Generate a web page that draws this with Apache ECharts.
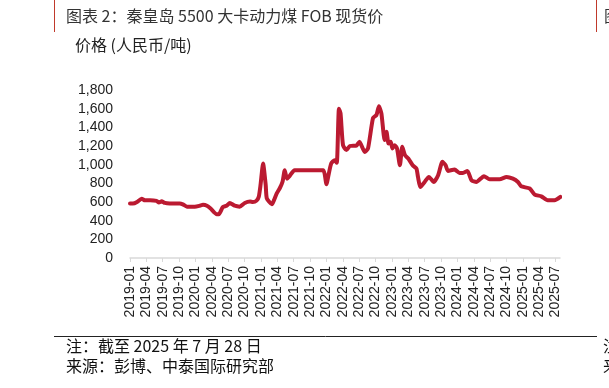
<!DOCTYPE html>
<html>
<head>
<meta charset="utf-8">
<script src="https://cdn.jsdelivr.net/npm/echarts@6/dist/echarts.min.js"></script>
<style>
html,body{margin:0;padding:0;background:#fff;}
#chart{width:609px;height:388px;}
</style>
</head>
<body>
<div id="chart"></div>
<script>
// ---- data ----
const dates = [
 "2019-01-01","2019-01-17","2019-02-09","2019-03-05","2019-03-24","2019-04-21","2019-05-28","2019-06-10","2019-06-25","2019-07-13",
 "2019-08-10","2019-10-05","2019-10-22","2019-11-14","2019-12-28","2020-01-25","2020-02-12","2020-03-04","2020-03-25","2020-04-28",
 "2020-05-10","2020-06-01","2020-06-22","2020-07-10","2020-08-07","2020-09-04","2020-10-02","2020-11-01","2020-11-16","2020-12-07",
 "2020-12-20","2020-12-30","2021-01-13","2021-01-28","2021-02-03","2021-03-01","2021-03-13","2021-03-28","2021-04-15","2021-04-30",
 "2021-05-12","2021-05-25","2021-06-09","2021-07-06","2021-12-13","2021-12-22","2022-01-01","2022-01-14","2022-01-28","2022-02-15",
 "2022-02-26","2022-03-10","2022-03-19","2022-04-02","2022-04-21","2022-05-10","2022-06-16","2022-07-03","2022-07-13","2022-08-01",
 "2022-08-20","2022-09-17","2022-10-06","2022-10-20","2022-11-03","2022-11-21","2022-12-01","2022-12-13","2022-12-25","2023-01-04",
 "2023-01-16","2023-01-30","2023-02-14","2023-02-26","2023-03-13","2023-04-01","2023-04-25","2023-05-16","2023-05-25","2023-06-07",
 "2023-07-01","2023-07-25","2023-08-22","2023-09-15","2023-10-09","2023-10-27","2023-11-09","2023-12-16","2024-01-13","2024-02-01",
 "2024-02-25","2024-03-19","2024-04-15","2024-05-28","2024-06-28","2024-08-24","2024-10-01","2024-11-06","2024-12-04","2024-12-22",
 "2025-02-08","2025-03-06","2025-04-12","2025-05-18","2025-06-25","2025-07-28"
];
const prices = [
 583,583,600,636,618,620,612,595,607,590,
 585,585,575,550,550,560,570,560,530,470,
 470,545,560,590,560,550,590,605,600,615,
 660,790,1012,780,640,575,620,690,750,820,
 940,850,880,940,940,900,790,900,1013,1048,
 1020,1600,1550,1210,1156,1200,1205,1245,1209,1137,
 1174,1500,1532,1625,1550,1263,1352,1227,1245,1174,
 1209,1174,994,1191,1102,1066,994,959,869,761,
 815,869,815,887,1030,994,933,948,912,912,
 933,833,815,876,844,844,869,851,815,769,
 744,679,661,618,618,654
];
const yTicks = [0,200,400,600,800,1000,1200,1400,1600,1800];
const titleText = "图表 2：秦皇岛 5500 大卡动力煤 FOB 现货价";
const unitText = "价格 (人民币/吨)";
const noteText = "注：截至 2025 年 7 月 28 日";
const sourceText = "来源：彭博、中泰国际研究部";

// month index since 2019-01 (fractional) for the value axis
function monthIndex(s){
  const p = s.split('-').map(Number);
  const dim = new Date(p[0], p[1], 0).getDate();
  return (p[0]-2019)*12 + (p[1]-1) + (p[2]-1)/dim;
}
const seriesData = dates.map((d,i)=>[monthIndex(d), prices[i]]);

const chart = echarts.init(document.getElementById('chart'), null, {renderer:'canvas'});
const cjk = '"Noto Sans CJK SC","Noto Sans",sans-serif';
chart.setOption({
  animation:false,
  backgroundColor:'#fff',
  grid:{left:130, right:49, top:90, bottom:130, containLabel:false},
  xAxis:{
    type:'value', min:0, max:78.8, interval:3,
    axisLine:{show:true, lineStyle:{color:'#d9d9d9', width:1.5}},
    axisTick:{show:true, length:4, lineStyle:{color:'#d9d9d9', width:1}},
    splitLine:{show:false},
    axisLabel:{
      rotate:90, margin:8, fontSize:14, color:'#222',
      fontFamily:'"Liberation Sans",Arial,sans-serif',
      showMaxLabel:false,
      formatter:function(v){
        if (Math.abs(v/3 - Math.round(v/3))>1e-6) return '';
        const y = 2019 + Math.floor(v/12);
        const m = Math.round(v % 12) + 1;
        return y + '-' + (m<10?'0':'') + m;
      }
    }
  },
  yAxis:{
    type:'value', min:yTicks[0], max:yTicks[yTicks.length-1], interval:200,
    axisLine:{show:false}, axisTick:{show:false}, splitLine:{show:false},
    axisLabel:{
      margin:17, fontSize:14, color:'#222',
      fontFamily:'"Liberation Sans",Arial,sans-serif',
      formatter:function(v){ return v.toLocaleString('en-US'); }
    }
  },
  series:[{
    type:'line', data:seriesData, showSymbol:false, smooth:0.2,
    lineStyle:{color:'#BB1A31', width:4, join:'round', cap:'round'}
  }],
  graphic:[
    {type:'line', shape:{x1:54.5,y1:0,x2:54.5,y2:32}, style:{stroke:'#C0392B', lineWidth:1}},
    {type:'line', shape:{x1:596.5,y1:0,x2:596.5,y2:32}, style:{stroke:'#C0392B', lineWidth:1}},
    {type:'text', left:66, top:8, style:{text:titleText, font:'16px '+cjk, fill:'#333'}},
    {type:'text', left:604, top:8, style:{text:'图', font:'16px '+cjk, fill:'#333'}},
    {type:'text', left:75, top:37, style:{text:unitText, font:'16px '+cjk, fill:'#222'}},
    {type:'line', shape:{x1:54,y1:336.5,x2:597,y2:336.5}, style:{stroke:'#222', lineWidth:1}},
    {type:'text', left:66, top:338, style:{text:noteText, font:'16px '+cjk, fill:'#111'}},
    {type:'text', left:66, top:358, style:{text:sourceText, font:'16px '+cjk, fill:'#111'}},
    {type:'text', left:603, top:338, style:{text:'注', font:'16px '+cjk, fill:'#111'}},
    {type:'text', left:603, top:358, style:{text:'来', font:'16px '+cjk, fill:'#111'}}
  ]
});
</script>
</body>
</html>
